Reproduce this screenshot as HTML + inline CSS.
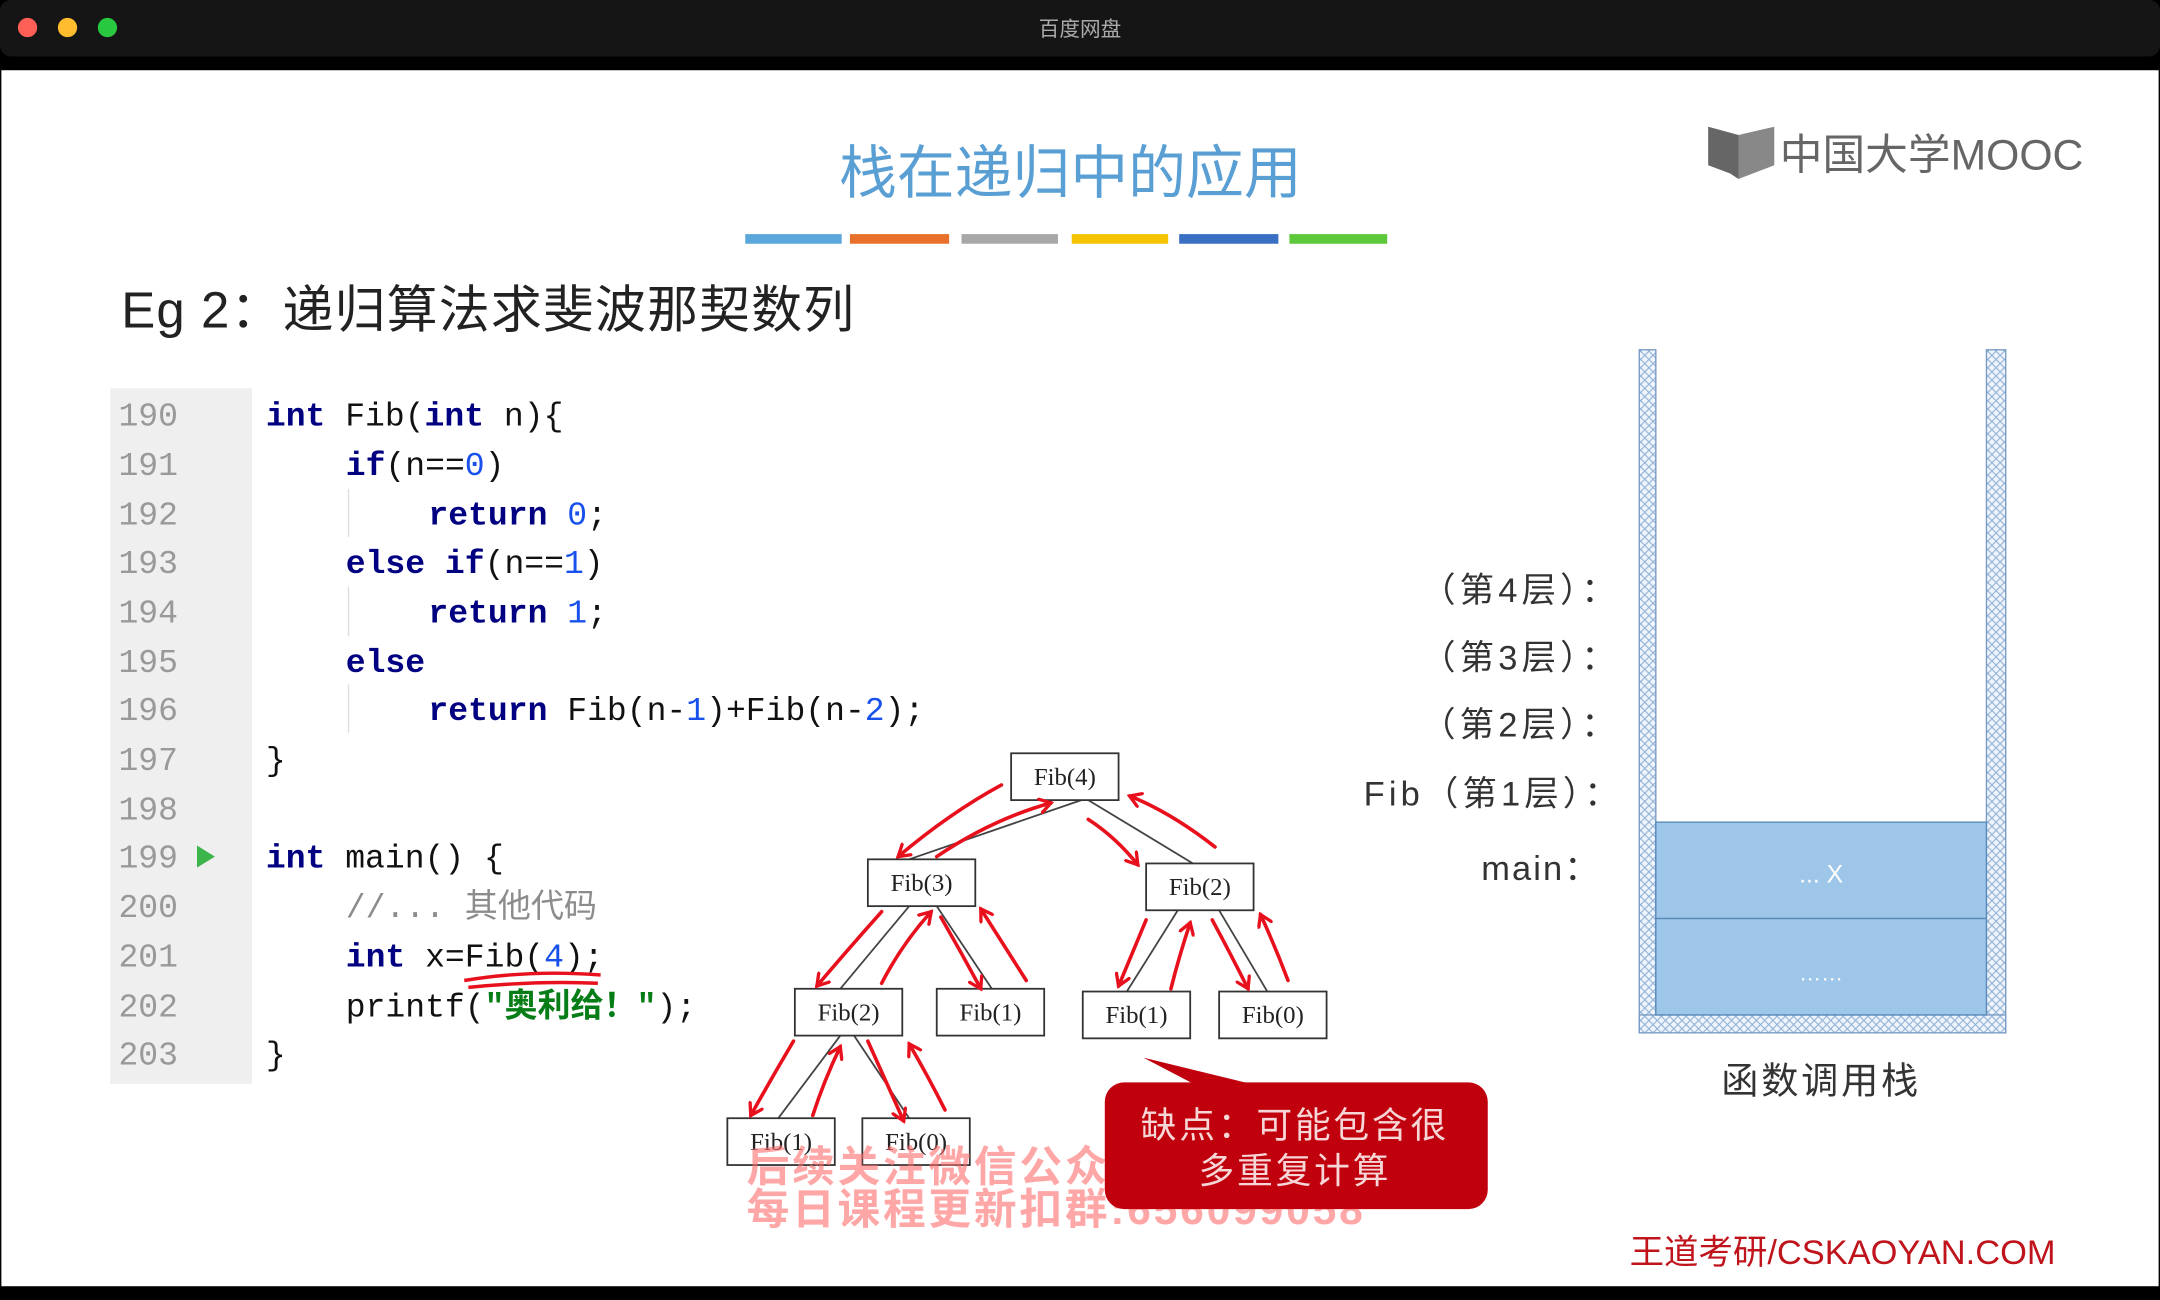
<!DOCTYPE html>
<html><head><meta charset="utf-8"><style>
html,body{margin:0;padding:0;background:#000;}
svg{display:block;}
</style></head><body>
<svg width="2160" height="1300" viewBox="0 0 1568 944" preserveAspectRatio="none" xmlns="http://www.w3.org/2000/svg">
<defs>
<pattern id="hatch" width="6" height="6" patternUnits="userSpaceOnUse">
<rect width="6" height="6" fill="#eef4fb"/>
<path d="M0,0 L6,6 M6,0 L0,6" stroke="#8fb0d4" stroke-width="0.8"/>
</pattern>
<marker id="ah" markerWidth="12" markerHeight="12" refX="9" refY="6" orient="auto" markerUnits="userSpaceOnUse">
<path d="M1,1 L9,6 L1,11" fill="none" stroke="#e8101c" stroke-width="2.4" stroke-linecap="round"/>
</marker>
</defs>
<rect x="0" y="0" width="1568" height="944" fill="#000"/>
<rect x="0" y="0" width="1568" height="41" rx="8" fill="#151515"/>
<circle cx="20" cy="20" r="7" fill="#fe5f57"/>
<circle cx="49" cy="20" r="7" fill="#febc2e"/>
<circle cx="78" cy="20" r="7" fill="#28c840"/>
<text x="784" y="26" text-anchor="middle" font-family="Liberation Sans, Noto Sans CJK SC, sans-serif" font-size="15" fill="#aaa">百度网盘</text>
<rect x="1" y="51" width="1566" height="883" fill="#fff"/>

<text x="777" y="140" text-anchor="middle" font-family="Liberation Sans, Noto Sans CJK SC, sans-serif" font-size="42" fill="#5a9fd4">栈在递归中的应用</text>
<rect x="541" y="170" width="70" height="7" fill="#5aa7dc"/>
<rect x="617" y="170" width="72" height="7" fill="#e8702a"/>
<rect x="698" y="170" width="70" height="7" fill="#a8a8a8"/>
<rect x="778" y="170" width="70" height="7" fill="#f5c400"/>
<rect x="856" y="170" width="72" height="7" fill="#3a6fc4"/>
<rect x="936" y="170" width="71" height="7" fill="#5cc83a"/>

<path d="M1240,92 L1262,98 L1262,130 L1256,126 L1240,120 Z" fill="#666"/>
<path d="M1262,98 L1288,92 L1288,120 L1262,130 Z" fill="#888"/>
<text x="1292" y="123" font-family="Liberation Sans, Noto Sans CJK SC, sans-serif" font-size="31" fill="#666" letter-spacing="0">中国大学MOOC</text>

<text x="88" y="238" font-family="Liberation Sans, Noto Sans CJK SC, sans-serif" font-size="37" fill="#222" letter-spacing="0.8">Eg 2：递归算法求斐波那契数列</text>

<rect x="80" y="282" width="103" height="505" fill="#efefef"/>
<g font-family="Liberation Mono, Noto Sans CJK SC, monospace" font-size="24" fill="#999">
<text x="86" y="309">190</text><text x="86" y="345">191</text><text x="86" y="381">192</text><text x="86" y="416">193</text><text x="86" y="452">194</text><text x="86" y="488">195</text><text x="86" y="523">196</text><text x="86" y="559">197</text><text x="86" y="595">198</text><text x="86" y="630">199</text><text x="86" y="666">200</text><text x="86" y="702">201</text><text x="86" y="738">202</text><text x="86" y="773">203</text>
</g>
<path d="M143,614 L156,622 L143,630 Z" fill="#3bb54a"/>
<g stroke="#ddd" stroke-width="1">
<line x1="253" y1="355" x2="253" y2="390"/>
<line x1="253" y1="426" x2="253" y2="462"/>
<line x1="253" y1="497" x2="253" y2="532"/>
</g>
<g font-family="Liberation Mono, Noto Sans CJK SC, monospace" font-size="24" fill="#111">
<text x="193" y="309"><tspan fill="#000080" font-weight="bold">int</tspan> Fib(<tspan fill="#000080" font-weight="bold">int</tspan> n){</text>
<text x="251" y="345"><tspan fill="#000080" font-weight="bold">if</tspan>(n==<tspan fill="#1750eb">0</tspan>)</text>
<text x="311" y="381"><tspan fill="#000080" font-weight="bold">return</tspan> <tspan fill="#1750eb">0</tspan>;</text>
<text x="251" y="416"><tspan fill="#000080" font-weight="bold">else if</tspan>(n==<tspan fill="#1750eb">1</tspan>)</text>
<text x="311" y="452"><tspan fill="#000080" font-weight="bold">return</tspan> <tspan fill="#1750eb">1</tspan>;</text>
<text x="251" y="488"><tspan fill="#000080" font-weight="bold">else</tspan></text>
<text x="311" y="523"><tspan fill="#000080" font-weight="bold">return</tspan> Fib(n-<tspan fill="#1750eb">1</tspan>)+Fib(n-<tspan fill="#1750eb">2</tspan>);</text>
<text x="193" y="559">}</text>
<text x="193" y="630"><tspan fill="#000080" font-weight="bold">int</tspan> main() {</text>
<text x="251" y="666"><tspan fill="#8c8c8c">//... 其他代码</tspan></text>
<text x="251" y="702"><tspan fill="#000080" font-weight="bold">int</tspan> x=Fib(<tspan fill="#1750eb">4</tspan>);</text>
<text x="251" y="738">printf(<tspan fill="#067d17" font-weight="bold">"奥利给！"</tspan>);</text>
<text x="193" y="773">}</text>
</g>
<path d="M337,712 Q385,704 436,708 M340,717 Q390,712 434,714" stroke="#e8101c" stroke-width="2.5" fill="none"/>

<g stroke="#444" stroke-width="1.3">
<line x1="785" y1="581" x2="660" y2="624"/>
<line x1="790" y1="581" x2="866" y2="627"/>
<line x1="660" y1="658" x2="610" y2="718"/>
<line x1="680" y1="658" x2="720" y2="718"/>
<line x1="855" y1="661" x2="818" y2="720"/>
<line x1="885" y1="661" x2="920" y2="720"/>
<line x1="610" y1="752" x2="565" y2="812"/>
<line x1="620" y1="752" x2="660" y2="812"/>
</g>
<g fill="#fff" stroke="#333" stroke-width="1.3">
<rect x="734" y="547" width="78" height="34"/>
<rect x="630" y="624" width="78" height="34"/>
<rect x="832" y="627" width="78" height="34"/>
<rect x="577" y="718" width="78" height="34"/>
<rect x="680" y="718" width="78" height="34"/>
<rect x="786" y="720" width="78" height="34"/>
<rect x="885" y="720" width="78" height="34"/>
<rect x="528" y="812" width="78" height="34"/>
<rect x="626" y="812" width="78" height="34"/>
</g>
<g font-family="Liberation Serif, serif" font-size="18" fill="#222" text-anchor="middle">
<text x="773" y="570">Fib(4)</text>
<text x="669" y="647">Fib(3)</text>
<text x="871" y="650">Fib(2)</text>
<text x="616" y="741">Fib(2)</text>
<text x="719" y="741">Fib(1)</text>
<text x="825" y="743">Fib(1)</text>
<text x="924" y="743">Fib(0)</text>
<text x="567" y="835">Fib(1)</text>
<text x="665" y="835">Fib(0)</text>
</g>
<g stroke="#e8101c" stroke-width="2.6" fill="none" stroke-linecap="round" marker-end="url(#ah)">
<path d="M727,570 Q690,590 652,622"/>
<path d="M680,622 Q720,595 763,583"/>
<path d="M790,595 Q810,608 826,628"/>
<path d="M882,615 Q850,590 820,578"/>
<path d="M640,662 Q615,690 593,716"/>
<path d="M640,714 Q655,685 676,662"/>
<path d="M683,666 Q698,692 712,718"/>
<path d="M745,712 Q728,685 712,660"/>
<path d="M832,668 Q822,692 812,716"/>
<path d="M850,718 Q856,694 864,670"/>
<path d="M880,668 Q893,692 906,718"/>
<path d="M935,712 Q926,688 915,664"/>
<path d="M576,756 Q560,783 545,810"/>
<path d="M590,810 Q598,785 610,760"/>
<path d="M630,756 Q643,785 656,814"/>
<path d="M686,806 Q674,782 660,758"/>
</g>

<g font-family="Liberation Sans, Noto Sans CJK SC, sans-serif" font-size="31" font-weight="bold" fill="#ff6a6a" fill-opacity="0.6" letter-spacing="2">
<text x="542" y="858">后续关注微信公众号：王道计算机</text>
<text x="542" y="889">每日课程更新扣群:656099058</text>
</g>
<path d="M830,768 L872,790 L920,790 Z" fill="#c0000c"/>
<rect x="802" y="786" width="278" height="92" rx="14" fill="#c0000c"/>
<g font-family="Liberation Sans, Noto Sans CJK SC, sans-serif" font-size="26" fill="#f6d6d6" text-anchor="middle" letter-spacing="2">
<text x="940" y="826">缺点：可能包含很</text>
<text x="940" y="859">多重复计算</text>
</g>

<rect x="1190" y="254" width="12" height="496" fill="url(#hatch)" stroke="#7a9cc4" stroke-width="1"/>
<rect x="1442" y="254" width="14" height="496" fill="url(#hatch)" stroke="#7a9cc4" stroke-width="1"/>
<rect x="1190" y="737" width="266" height="13" fill="url(#hatch)" stroke="#7a9cc4" stroke-width="1"/>
<rect x="1202" y="597" width="240" height="70" fill="#9dc6e8" stroke="#5a8ab8" stroke-width="1"/>
<rect x="1202" y="667" width="240" height="70" fill="#9dc6e8" stroke="#5a8ab8" stroke-width="1"/>
<text x="1322" y="641" text-anchor="middle" font-family="Liberation Sans, sans-serif" font-size="18" fill="#fff">... X</text>
<text x="1322" y="712" text-anchor="middle" font-family="Liberation Sans, sans-serif" font-size="16" fill="#fff">……</text>
<g font-family="Liberation Sans, Noto Sans CJK SC, sans-serif" font-size="25" fill="#333" text-anchor="end" letter-spacing="3">
<text x="1176" y="437">（第4层）：</text>
<text x="1176" y="486">（第3层）：</text>
<text x="1176" y="535">（第2层）：</text>
<text x="1178" y="585">Fib（第1层）：</text>
<text x="1162" y="639" letter-spacing="1.5">main：</text>
</g>
<text x="1322" y="794" text-anchor="middle" font-family="Liberation Sans, Noto Sans CJK SC, sans-serif" font-size="27" fill="#333" letter-spacing="2">函数调用栈</text>
<text x="1183" y="918" font-family="Liberation Sans, Noto Sans CJK SC, sans-serif" font-size="25" fill="#c0141c">王道考研/CSKAOYAN.COM</text>
</svg>
</body></html>
